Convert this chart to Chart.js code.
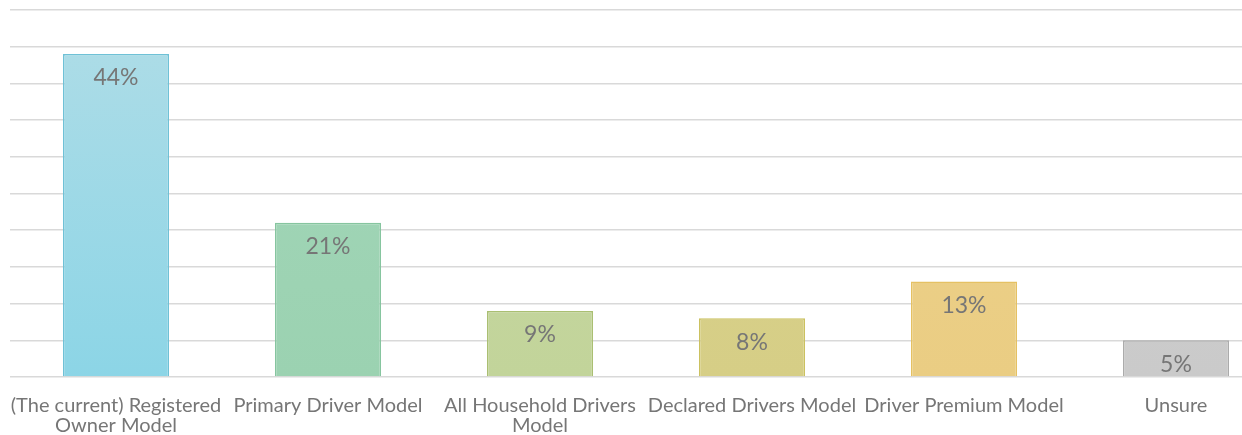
<!DOCTYPE html>
<html>
<head>
<meta charset="utf-8">
<script src="https://cdn.jsdelivr.net/npm/chart.js@4"></script>
<style>
  html, body { margin: 0; padding: 0; background: #fff; overflow: hidden; }
  #wrap { width: 1242px; height: 435px; overflow: hidden; }
</style>
</head>
<body>
<div id="wrap"><canvas id="c" width="1282" height="435"></canvas></div>
<script>
const categories = [
  ["(The current) Registered", "Owner Model"],
  "Primary Driver Model",
  ["All Household Drivers", "Model"],
  "Declared Drivers Model",
  "Driver Premium Model",
  "Unsure"
];
const values = [44, 21, 9, 8, 13, 5];
const topColors = ["#b0dde7", "#a3d6b9", "#c8d8a4", "#dad38e", "#eed28c", "#d0d0d0"];
const bottomColors = ["#8cd5e6", "#9bd2b1", "#c2d49a", "#d6ce86", "#eacd83", "#cacaca"];
const borderColors = ["#6fc1d6", "#86c59f", "#aabf72", "#cbc160", "#e5c163", "#ababab"];

const labelPlugin = {
  id: "barLabels",
  afterDatasetsDraw(chart) {
    const ctx = chart.ctx;
    const meta = chart.getDatasetMeta(0);
    ctx.save();
    ctx.font = "23px Lato";
    ctx.fillStyle = "#767676";
    ctx.textAlign = "center";
    ctx.textBaseline = "middle";
    meta.data.forEach((bar, i) => {
      ctx.fillText(values[i] + "%", bar.x, bar.y + 24);
    });
    ctx.restore();
  }
};

new Chart(document.getElementById("c"), {
  type: "bar",
  data: {
    labels: categories,
    datasets: [{
      data: values,
      backgroundColor: (c) => {
        const area = c.chart.chartArea;
        if (!area) return topColors[c.dataIndex];
        const g = c.chart.ctx.createLinearGradient(0, area.top, 0, area.bottom);
        g.addColorStop(0, topColors[c.dataIndex]);
        g.addColorStop(1, bottomColors[c.dataIndex]);
        return g;
      },
      borderColor: borderColors,
      borderWidth: 1.5,
      borderSkipped: "bottom",
      categoryPercentage: 1,
      barPercentage: 0.5
    }]
  },
  options: {
    responsive: false,
    animation: false,
    devicePixelRatio: 1,
    layout: { padding: { left: 10, top: 10, right: 0, bottom: 0 } },
    plugins: { legend: { display: false }, tooltip: { enabled: false } },
    scales: {
      x: {
        grid: { display: false },
        border: { display: false },
        afterFit: (axis) => {
          axis.height = 58;
          axis.paddingLeft = 0;
          axis.paddingRight = 0;
        },
        ticks: {
          color: "#767676",
          font: { family: "Lato", size: 20, lineHeight: 1 },
          maxRotation: 0,
          autoSkip: false,
          padding: 11
        }
      },
      y: {
        min: 0,
        max: 50,
        ticks: { display: false, stepSize: 5 },
        grid: { color: "#d9d9d9", lineWidth: 1.5, drawTicks: false },
        border: { display: false }
      }
    }
  },
  plugins: [labelPlugin]
});
</script>
</body>
</html>
